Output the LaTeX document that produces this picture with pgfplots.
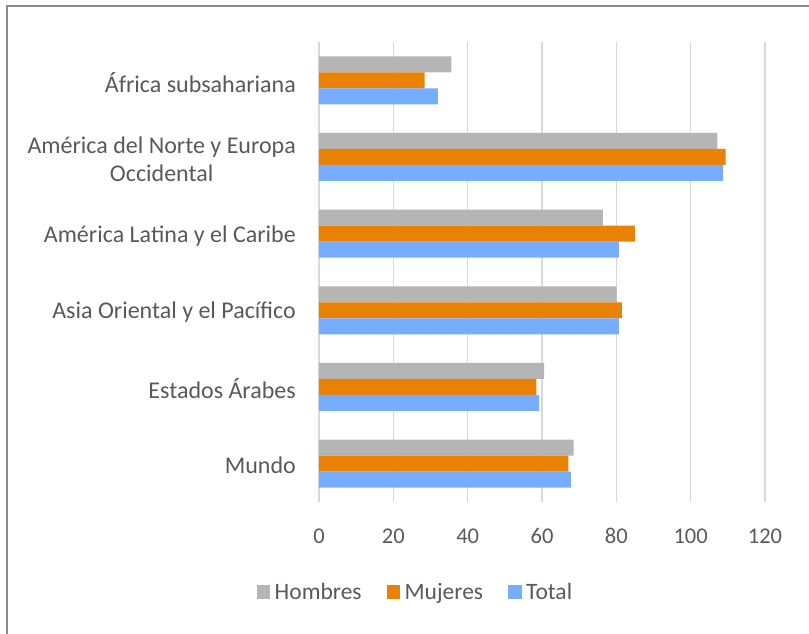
\documentclass[border=0pt]{standalone}
\usepackage{pgfplots}
\pgfplotsset{compat=1.18}
\usepackage{fontspec}
\setmainfont{Carlito}
\definecolor{txt}{HTML}{595959}
\definecolor{gridc}{HTML}{D9D9D9}
\definecolor{cH}{HTML}{B5B5B5}
\definecolor{cM}{HTML}{E98204}
\definecolor{cT}{HTML}{77ADFF}
\definecolor{frame}{HTML}{8C8C8C}
\begin{document}
\begin{tikzpicture}[x=1pt,y=1pt]
\useasboundingbox (0,0) rectangle (809,634);
\draw[frame, line width=1.2pt] (7,0) -- (7,628) -- (809,628);
\begin{axis}[
  at={(319pt,132pt)}, anchor=south west,
  scale only axis, width=446pt, height=460pt,
  xmin=0, xmax=120, ymin=-0.5, ymax=5.5,
  xtick={0,20,...,120}, ytick={0,1,2,3,4,5},
  yticklabels={Mundo,Estados Árabes,Asia Oriental y el Pacífico,América Latina y el Caribe,{América del Norte y Europa\\Occidental},África subsahariana},
  xmajorgrids, major grid style={gridc, line width=1.5pt},
  axis line style={draw=none}, major tick length=0pt,
  xbar, bar width=16pt,
  /pgf/number format/assume math mode=true,
  xticklabel style={font=\fontsize{22.5}{26}\selectfont, text=txt, anchor=center, yshift=-34pt},
  yticklabel style={font=\fontsize{24}{28}\selectfont, text=txt, align=center, anchor=east, inner sep=0pt, xshift=-23pt, yshift=-2pt},
  legend columns=3,
  legend style={at={(0.214,-0.1957)}, anchor=center, draw=none, fill=none,
    font=\fontsize{23.5}{28}\selectfont, text=txt, inner sep=0pt,
    nodes={inner sep=0pt},
    /tikz/every even column/.append style={column sep=25pt},
    /tikz/every odd column/.append style={column sep=0pt}},
  legend image code/.code={\fill[#1] (0pt,-6.75pt) rectangle (13.5pt,6.75pt); \path (18pt,0pt);},
]
\addplot[fill=cH, draw=none, bar shift=16pt] coordinates {(68.5,0) (60.6,1) (80.1,2) (76.4,3) (107.2,4) (35.6,5)};
\addplot[fill=cM, draw=none, bar shift=0pt] coordinates {(67.1,0) (58.5,1) (81.5,2) (85.0,3) (109.4,4) (28.4,5)};
\addplot[fill=cT, draw=none, bar shift=-16pt] coordinates {(67.8,0) (59.2,1) (80.7,2) (80.7,3) (108.7,4) (32.0,5)};
\legend{Hombres,Mujeres,Total}
\end{axis}
\end{tikzpicture}
\end{document}
